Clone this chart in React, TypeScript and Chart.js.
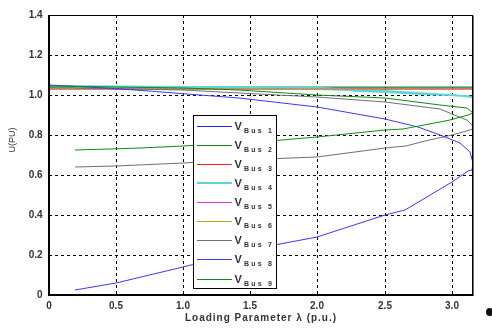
import React, { useEffect, useRef } from "react";
import { Chart, registerables } from "chart.js";

Chart.register(...registerables);

// Axis ticks
const xTicks = [0, 0.5, 1, 1.5, 2, 2.5, 3];
const yTicks = [0, 0.2, 0.4, 0.6, 0.8, 1, 1.2, 1.4];
const xMin = 0;
const xMax = 3.16;
const yMin = 0;
const yMax = 1.4;

const xTitle = "Loading Parameter \u03bb (p.u.)";
const yTitle = "U(PU)";

const busLabels = ["Bus 1", "Bus 2", "Bus 3", "Bus 4", "Bus 5", "Bus 6", "Bus 7", "Bus 8", "Bus 9"];

// Series (loading parameter lambda, voltage in p.u.)
const bus1Lambda = [0, 3.16];
const bus1V = [1.037, 1.037];

const bus2Lambda = [0, 3.16];
const bus2V = [1.042, 1.04];

const bus3Lambda = [0, 3.16];
const bus3V = [1.03, 1.03];

const bus4Lambda = [0, 1.0, 1.65, 2.05, 2.3, 2.52, 2.76, 3.0, 3.16, 3.1, 2.5, 2.0, 1.0, 0.2];
const bus4V = [1.043, 1.04, 1.038, 1.036, 1.02, 1.013, 1.005, 0.998, 0.99, 0.995, 1.02, 1.03, 1.035, 1.04];

const bus5Lambda = [0, 3.16];
const bus5V = [1.03, 1.03];

const bus6Lambda = [0, 3.16];
const bus6V = [1.03, 1.03];

const bus7Lambda = [0.2, 1.0, 1.42, 2.0, 2.5, 2.91, 3.0, 3.11, 3.16, 3.16, 3.08, 3.0, 2.8, 2.66, 2.5, 2.0, 1.42, 1.0, 0.5, 0.2];
const bus7V = [1.035, 1.025, 1.01, 0.99, 0.967, 0.93, 0.905, 0.875, 0.845, 0.83, 0.815, 0.8, 0.77, 0.745, 0.735, 0.69, 0.675, 0.66, 0.645, 0.638];

const bus8Lambda = [0, 0.15, 0.43, 0.75, 1.03, 1.42, 2.0, 2.5, 2.75, 2.91, 3.06, 3.135, 3.16, 3.148, 3.12, 3.0, 2.65, 2.5, 2.0, 1.6, 1.0, 0.5, 0.2];
const bus8V = [1.048, 1.045, 1.035, 1.018, 1.007, 0.985, 0.938, 0.88, 0.84, 0.8, 0.76, 0.717, 0.66, 0.625, 0.62, 0.565, 0.425, 0.4, 0.29, 0.24, 0.14, 0.06, 0.025];

const bus9Lambda = [0, 1.0, 1.42, 2.0, 2.5, 2.91, 3.11, 3.16, 3.12, 2.99, 2.64, 2.5, 2.0, 1.65, 1.0, 0.68, 0.46, 0.2];
const bus9V = [1.043, 1.035, 1.025, 1.0, 0.983, 0.95, 0.933, 0.912, 0.9, 0.875, 0.83, 0.825, 0.79, 0.77, 0.745, 0.733, 0.728, 0.725];

const busLambdas = [bus1Lambda, bus2Lambda, bus3Lambda, bus4Lambda, bus5Lambda, bus6Lambda, bus7Lambda, bus8Lambda, bus9Lambda];
const busVs = [bus1V, bus2V, bus3V, bus4V, bus5V, bus6V, bus7V, bus8V, bus9V];

const busColors = ["#2020ff", "#108a10", "#ff2020", "#5fd6d6", "#dd30dd", "#c0b010", "#707070", "#3a3aff", "#108a10"];
const busWidths = [1, 1, 1, 2, 1, 1, 1, 1, 1];

const FONT = "'Liberation Sans', Arial, sans-serif";
const TEXT_COLOR = "#333333";

const overlayPlugin = {
  id: "overlay",
  afterDraw(chart: any) {
    const ctx = chart.ctx as CanvasRenderingContext2D;
    const { left, right, top, bottom } = chart.chartArea;
    ctx.save();
    // frame
    ctx.setLineDash([]);
    ctx.strokeStyle = "#000";
    ctx.lineWidth = 1;
    const l = Math.round(left) + 0.5;
    const r = Math.round(right) - 0.5;
    const t = Math.round(top) + 0.5;
    const b = Math.round(bottom) - 0.5;
    ctx.strokeRect(l, t, r - l, b - t);
    ctx.strokeStyle = "#777";
    ctx.beginPath();
    ctx.moveTo(r + 1, t);
    ctx.lineTo(r + 1, b + 1);
    ctx.stroke();

    // legend
    const lx = 193.5, ly = 115.5, lw = 83, lh = 173;
    ctx.fillStyle = "#fff";
    ctx.fillRect(lx, ly, lw, lh);
    ctx.strokeStyle = "#000";
    ctx.lineWidth = 1;
    ctx.strokeRect(lx, ly, lw, lh);
    const y0 = 125.7;
    const dy = 19.1;
    for (let i = 0; i < busLabels.length; i++) {
      const yc = Math.round(y0 + i * dy);
      ctx.strokeStyle = busColors[i];
      ctx.lineWidth = busWidths[i];
      ctx.beginPath();
      const ly2 = busWidths[i] % 2 === 1 ? yc + 0.5 : yc;
      ctx.moveTo(197, ly2);
      ctx.lineTo(232, ly2);
      ctx.stroke();
      ctx.fillStyle = TEXT_COLOR;
      ctx.textAlign = "left";
      ctx.textBaseline = "alphabetic";
      (ctx as any).letterSpacing = "0px";
      ctx.font = `bold 11px ${FONT}`;
      ctx.fillText("V", 234.5, yc + 3.5);
      (ctx as any).letterSpacing = "2.2px";
      ctx.font = `bold 7px ${FONT}`;
      ctx.fillText(busLabels[i], 244, yc + 6.5);
    }
    (ctx as any).letterSpacing = "0px";

    // axis titles
    ctx.fillStyle = TEXT_COLOR;
    ctx.font = `bold 10px ${FONT}`;
    (ctx as any).letterSpacing = "1px";
    ctx.textAlign = "center";
    ctx.textBaseline = "middle";
    ctx.fillText(xTitle, 261, 318);
    (ctx as any).letterSpacing = "0px";
    ctx.save();
    ctx.translate(13, 140);
    ctx.rotate(-Math.PI / 2);
    ctx.font = `9px ${FONT}`;
    ctx.fillText(yTitle, 0, 0);
    ctx.restore();

    // stray mark at the right edge
    ctx.fillStyle = "#111";
    ctx.beginPath();
    ctx.ellipse(489.5, 312, 3.5, 4, 0, 0, Math.PI * 2);
    ctx.fill();
    ctx.restore();
  },
};

export default function App() {
  const canvasRef = useRef<HTMLCanvasElement | null>(null);

  useEffect(() => {
    if (!canvasRef.current) return;
    const datasets = busLabels.map((label, i) => ({
      label,
      data: busLambdas[i].map((x, j) => ({ x, y: busVs[i][j] })),
      borderColor: busColors[i],
      backgroundColor: busColors[i],
      borderWidth: busWidths[i],
      showLine: true,
      pointRadius: 0,
      tension: 0,
      fill: false,
      order: busLabels.length - i,
    }));

    const chart = new Chart(canvasRef.current, {
      type: "scatter",
      data: { datasets },
      options: {
        animation: false,
        responsive: false,
        maintainAspectRatio: false,
        devicePixelRatio: 1,
        layout: { padding: { top: 15, right: 18.7, left: 0, bottom: 0 } },
        plugins: {
          legend: { display: false },
          tooltip: { enabled: false },
          title: { display: false },
        },
        scales: {
          x: {
            type: "linear",
            min: xMin,
            max: xMax,
            alignToPixels: true,
            afterBuildTicks: (scale: any) => {
              scale.ticks = xTicks.map((v) => ({ value: v }));
            },
            afterFit: (scale: any) => {
              scale.height = 37;
            },
            grid: { color: "#000", lineWidth: 1, drawTicks: false },
            border: { display: true, color: "#000", width: 1, dash: [3, 3] },
            ticks: {
              padding: 5,
              color: TEXT_COLOR,
              font: { family: FONT, size: 10, weight: "bold" },
              maxRotation: 0,
              autoSkip: false,
            },
          },
          y: {
            type: "linear",
            min: yMin,
            max: yMax,
            alignToPixels: true,
            afterBuildTicks: (scale: any) => {
              scale.ticks = yTicks.map((v) => ({ value: v }));
            },
            afterFit: (scale: any) => {
              scale.width = 48.6;
            },
            grid: { color: "#000", lineWidth: 1, drawTicks: false },
            border: { display: true, color: "#000", width: 1, dash: [3, 3] },
            ticks: {
              padding: 6,
              color: TEXT_COLOR,
              font: { family: FONT, size: 10, weight: "bold" },
              autoSkip: false,
            },
          },
        },
      },
      plugins: [overlayPlugin],
    });
    return () => chart.destroy();
  }, []);

  return (
    <div style={{ position: "fixed", left: 0, top: 0, width: 492, height: 332, background: "#fff" }}>
      <canvas ref={canvasRef} width={492} height={332} style={{ display: "block", width: 492, height: 332 }} />
    </div>
  );
}
